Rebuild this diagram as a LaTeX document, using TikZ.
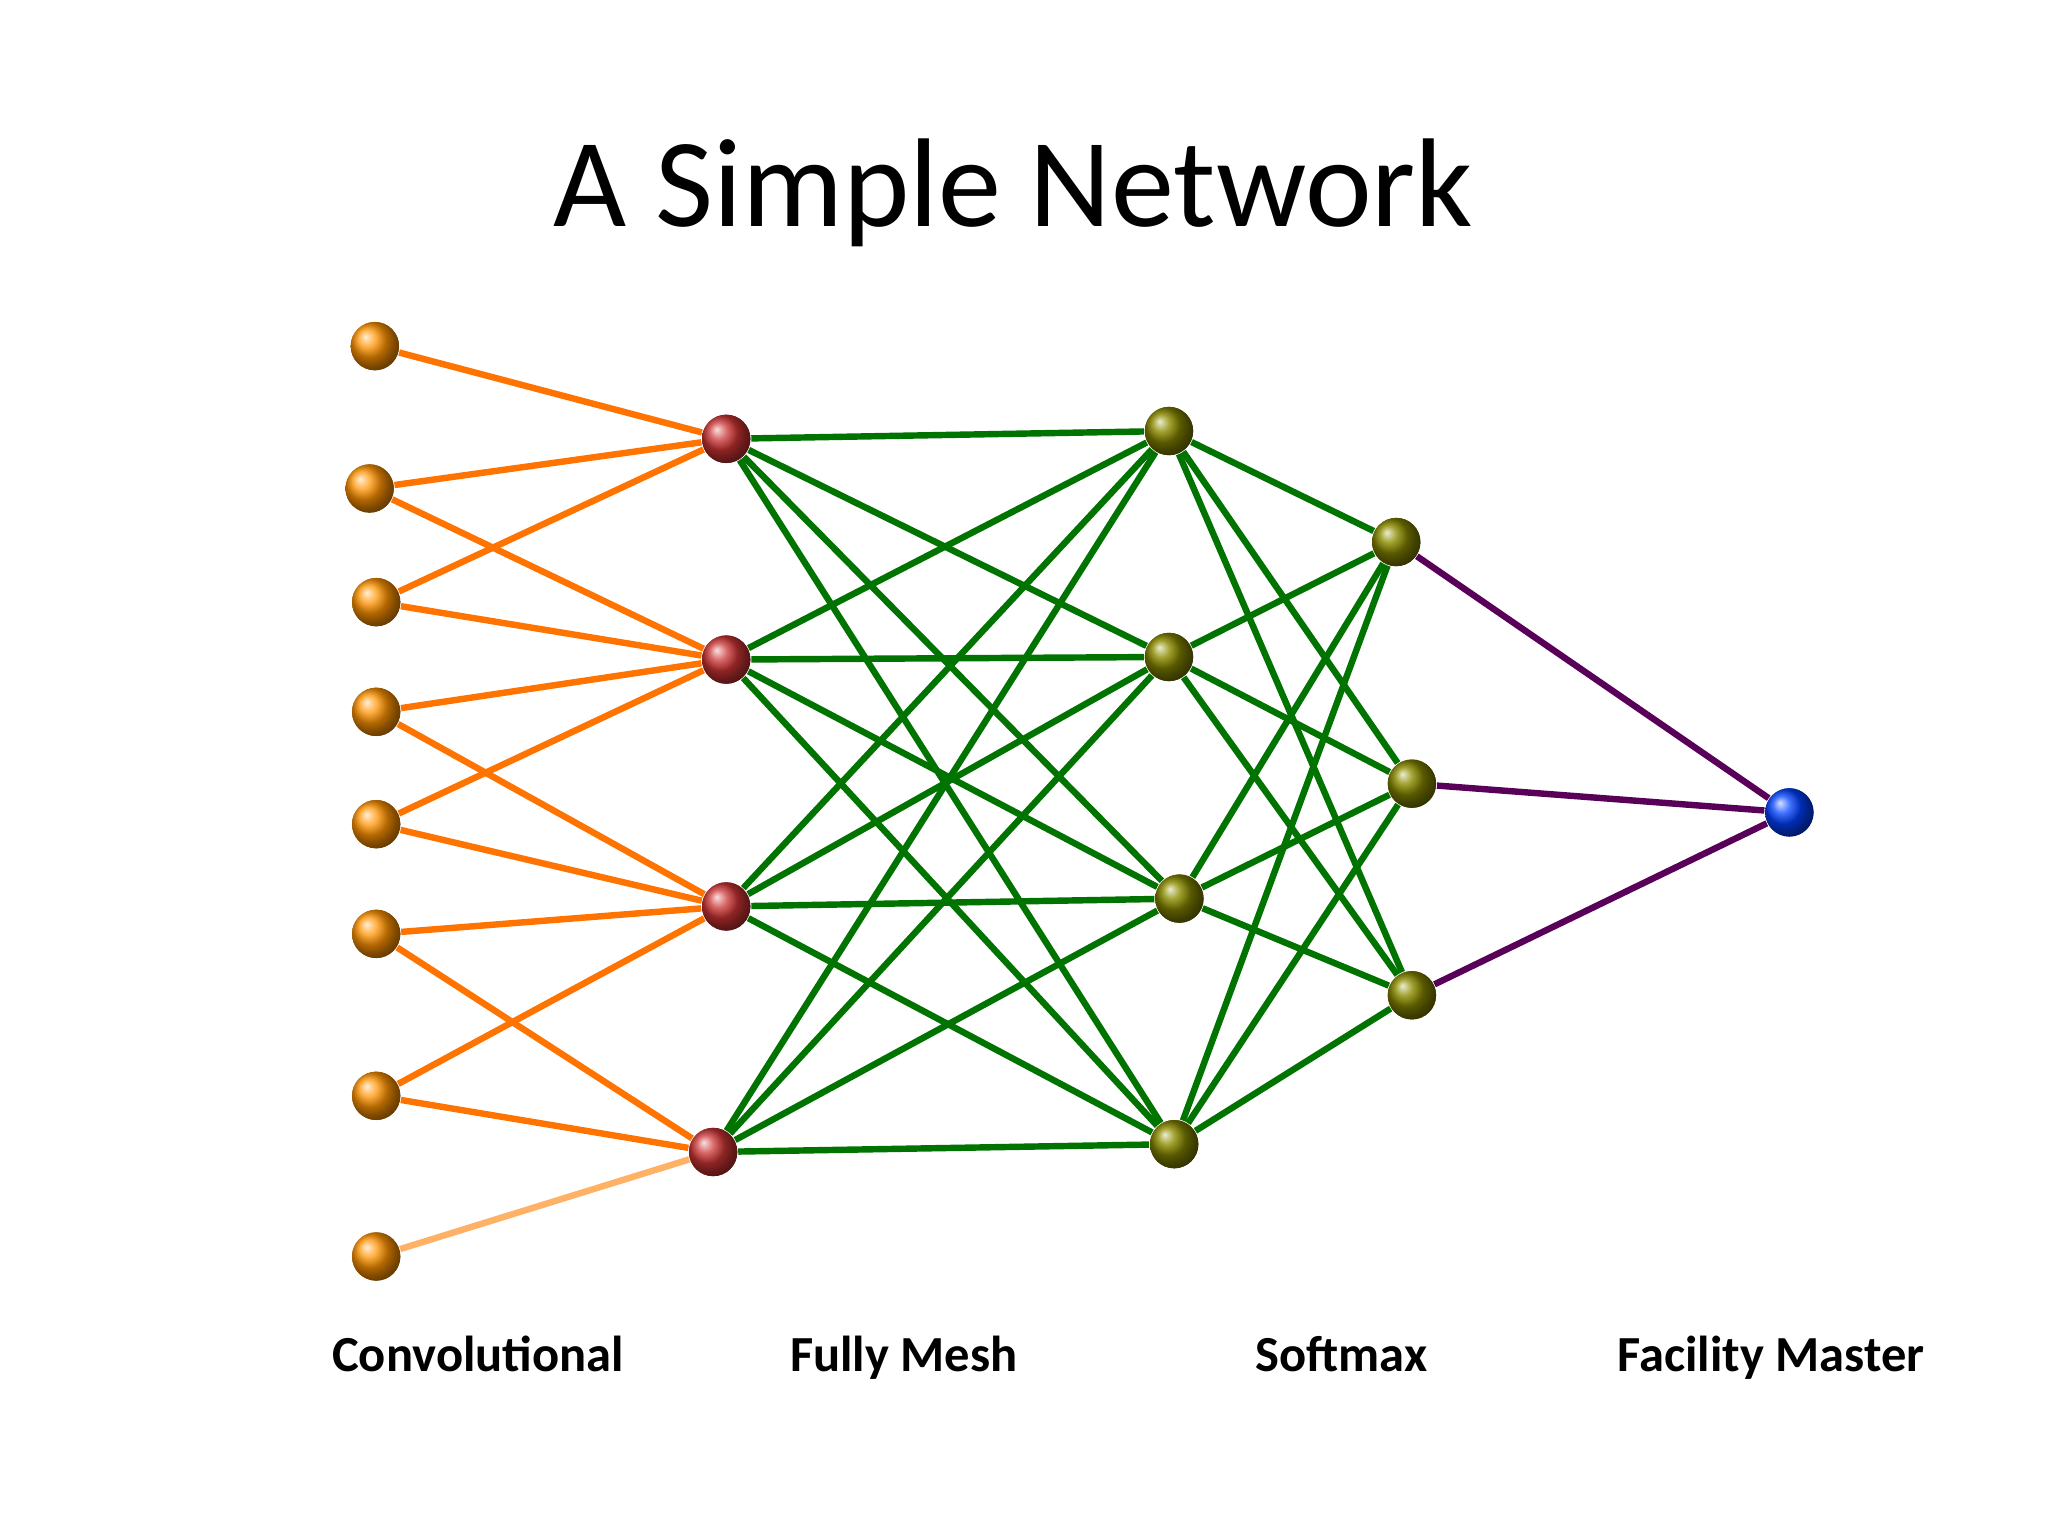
\documentclass[tikz,border=0pt]{standalone}
\usepackage{fontspec}
\setmainfont{Carlito}
\begin{document}
\begin{tikzpicture}[x=0.01cm,y=-0.01cm,
  nd/.style={circle,minimum size=0.37cm,inner sep=0pt,shading=ball},
  org/.style={nd,ball color=orange!85!yellow},
  rd/.style={nd,ball color=red!75!black!80!white},
  ol/.style={nd,ball color=olive!60!gray},
  bl/.style={nd,ball color=blue!75!cyan},
  oe/.style={draw=orange!90!red,line width=1.4pt},
  ge/.style={draw=green!45!black,line width=1.4pt},
  pe/.style={draw=violet!70!black,line width=1.4pt},
  lab/.style={font=\bfseries\fontsize{11}{13}\selectfont,anchor=base}]
\useasboundingbox (0,0) rectangle (1568,1176);
\node[font=\fontsize{27.5}{33}\selectfont] (title) at (776,148) {A Simple Network};
\node[org] (o1) at (287,265) {};
\node[org] (o2) at (283,374) {};
\node[org] (o3) at (288,461) {};
\node[org] (o4) at (288,545) {};
\node[org] (o5) at (288,631) {};
\node[org] (o6) at (288,715) {};
\node[org] (o7) at (288,839) {};
\node[org] (o8) at (288,962) {};
\node[rd] (r1) at (556,336) {};
\node[rd] (r2) at (556,505) {};
\node[rd] (r3) at (556,694) {};
\node[rd] (r4) at (546,882) {};
\node[ol] (h1) at (895,330) {};
\node[ol] (h2) at (895,503) {};
\node[ol] (h3) at (903,688) {};
\node[ol] (h4) at (899,876) {};
\node[ol] (s1) at (1069,415) {};
\node[ol] (s2) at (1081,600) {};
\node[ol] (s3) at (1081,762) {};
\node[bl] (b) at (1370,622) {};
\foreach \a/\b in {o1/r1,o2/r1,o2/r2,o3/r1,o3/r2,o4/r2,o4/r3,o5/r2,o5/r3,o6/r3,o6/r4,o7/r3,o7/r4}
  \draw[oe] (\a) -- (\b);
\draw[draw=orange!60,line width=1.4pt] (o8) -- (r4);
\foreach \a in {r1,r2,r3,r4}\foreach \b in {h1,h2,h3,h4} \draw[ge] (\a) -- (\b);
\foreach \a in {h1,h2,h3,h4}\foreach \b in {s1,s2,s3} \draw[ge] (\a) -- (\b);
\foreach \a in {s1,s2,s3} \draw[pe] (\a) -- (b);
\foreach \n in {o1,o2,o3,o4,o5,o6,o7,o8} \node[org] at (\n) {};
\foreach \n in {r1,r2,r3,r4} \node[rd] at (\n) {};
\foreach \n in {h1,h2,h3,h4,s1,s2,s3} \node[ol] at (\n) {};
\node[bl] at (b) {};
\node[lab] (l1) at (366,1050) {Convolutional};
\node[lab] (l2) at (692,1050) {Fully Mesh};
\node[lab] (l3) at (1027,1050) {Softmax};
\node[lab] (l4) at (1356,1050) {Facility Master};
\end{tikzpicture}
\end{document}
